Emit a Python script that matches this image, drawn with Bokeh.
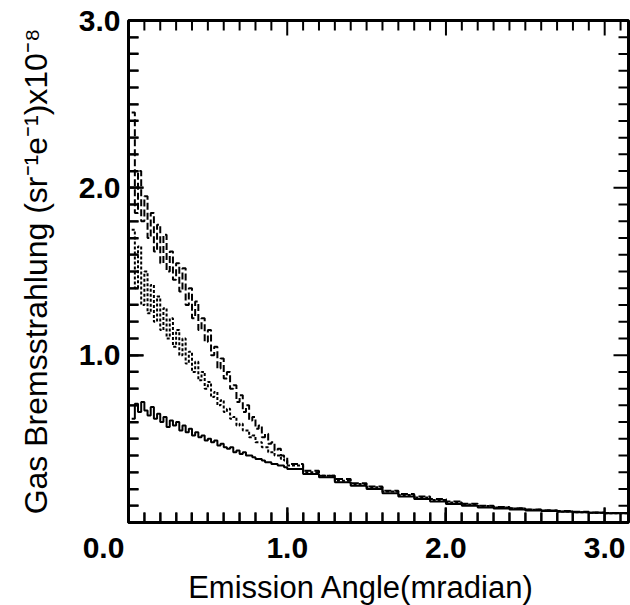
import numpy as np
from bokeh.plotting import figure
from bokeh.models import Range1d, FixedTicker
from bokeh.embed import file_html
from bokeh.resources import INLINE

# ---- data -------------------------------------------------------------
# fine angular bins (mrad) below 1.0, coarse bins above
fine_angle = np.round(np.arange(0.02, 0.995, 0.02), 2)
tail_angle = np.round(np.arange(1.0, 3.05, 0.1), 1)
last_edge = 3.2

solid_fine = [0.62, 0.71, 0.66, 0.72, 0.67, 0.64, 0.69, 0.62, 0.65, 0.60,
              0.63, 0.57, 0.61, 0.58, 0.60, 0.55, 0.58, 0.54, 0.56, 0.52,
              0.54, 0.51, 0.52, 0.49, 0.50, 0.48, 0.49, 0.46, 0.47, 0.45,
              0.44, 0.45, 0.42, 0.43, 0.41, 0.42, 0.40, 0.40, 0.39, 0.38,
              0.38, 0.37, 0.36, 0.36, 0.35, 0.35, 0.34, 0.34, 0.33]
solid_tail = [0.32, 0.29, 0.27, 0.24, 0.22, 0.20, 0.175, 0.155, 0.14, 0.125,
              0.11, 0.10, 0.09, 0.083, 0.077, 0.072, 0.068, 0.064, 0.061, 0.058, 0.056]

dashed_fine = [2.45, 1.85, 2.10, 1.80, 1.95, 1.70, 1.85, 1.62, 1.78, 1.55,
               1.72, 1.50, 1.62, 1.45, 1.55, 1.38, 1.52, 1.30, 1.40, 1.22,
               1.32, 1.15, 1.22, 1.08, 1.15, 1.00, 1.05, 0.92, 0.98, 0.86,
               0.90, 0.80, 0.82, 0.72, 0.76, 0.66, 0.70, 0.61, 0.63, 0.56,
               0.58, 0.51, 0.53, 0.47, 0.48, 0.43, 0.44, 0.40, 0.39]
dashed_tail = [0.35, 0.31, 0.28, 0.26, 0.235, 0.215, 0.19, 0.17, 0.155, 0.14,
               0.125, 0.112, 0.10, 0.092, 0.085, 0.078, 0.073, 0.068, 0.064, 0.06, 0.057]

dotted_fine = [1.75, 1.40, 1.65, 1.30, 1.50, 1.25, 1.42, 1.20, 1.35, 1.15,
               1.28, 1.10, 1.22, 1.05, 1.15, 1.00, 1.10, 0.95, 1.02, 0.90,
               0.96, 0.85, 0.90, 0.80, 0.84, 0.75, 0.78, 0.70, 0.73, 0.66,
               0.68, 0.62, 0.63, 0.58, 0.59, 0.55, 0.55, 0.51, 0.52, 0.48,
               0.48, 0.45, 0.45, 0.42, 0.42, 0.40, 0.40, 0.38, 0.37]
dotted_tail = [0.34, 0.30, 0.28, 0.25, 0.23, 0.21, 0.185, 0.165, 0.15, 0.135,
               0.12, 0.108, 0.098, 0.09, 0.083, 0.076, 0.071, 0.066, 0.062, 0.059, 0.056]

x_ticks = [0.0, 1.0, 2.0, 3.0]
y_ticks = [0.0, 1.0, 2.0, 3.0]
NB = "\u00a0"
x_tick_labels = {0.0: "0.0" + NB * 6, 1.0: "1.0", 2.0: "2.0", 3.0: "3.0"}
y_tick_labels = {0.0: "", 1.0: "1.0", 2.0: "2.0", 3.0: "3.0"}
x_title = "Emission Angle(mradian)" + NB * 4
y_title = "Gas Bremsstrahlung (sr\u207b\u00b9e\u207b\u00b9)x10\u207b\u2078"

X_MAX, Y_MAX = 3.15, 3.0
FW, FH = 500, 502

# ---- figure -----------------------------------------------------------
p = figure(frame_width=FW, frame_height=FH, output_backend="svg", toolbar_location=None,
           x_range=Range1d(0, X_MAX), y_range=Range1d(0, Y_MAX),
           min_border_left=128, min_border_right=2, min_border_top=20,
           min_border_bottom=83)
p.grid.visible = False
p.outline_line_color = "black"
p.outline_line_width = 3

# ---- inward ticks on all four sides (drawn as segments) ----------------
px_x = X_MAX / FW
px_y = Y_MAX / FH
MAJ, MIN = 15, 10
xt = [round(0.1 * i, 1) for i in range(1, 32)]
yt = [round(0.1 * i, 1) for i in range(1, 30)]
def tick_len(v, major_set):
    return MAJ if any(abs(v - m) < 1e-6 for m in major_set) else MIN

bx0, bx1, by0, by1 = [], [], [], []
for v in xt:
    L = tick_len(v, x_ticks)
    bx0 += [v, v]; bx1 += [v, v]
    by0 += [0.0, Y_MAX]; by1 += [L * px_y, Y_MAX - L * px_y]
for v in yt:
    L = tick_len(v, y_ticks)
    bx0 += [0.0, X_MAX]; bx1 += [L * px_x, X_MAX - L * px_x]
    by0 += [v, v]; by1 += [v, v]
p.segment(x0=bx0, y0=by0, x1=bx1, y1=by1, line_color="black", line_width=2)

# ---- curves -------------------------------------------------------------
def edges(fine, tail):
    xs = list(fine_angle) + list(tail_angle) + [last_edge]
    ys = list(fine) + list(tail) + [tail[-1]]
    return xs, ys

xs, ys = edges(solid_fine, solid_tail)
p.step(xs, ys, mode="after", line_color="black", line_width=2)
xs, ys = edges(dashed_fine, dashed_tail)
p.step(xs, ys, mode="after", line_color="black", line_width=2, line_dash="7 3")
xs, ys = edges(dotted_fine, dotted_tail)
p.step(xs, ys, mode="after", line_color="black", line_width=2, line_dash="3 2")

# ---- axes (labels + inward ticks) -------------------------------------
minor_x = [round(0.1 * i, 1) for i in range(0, 32)]
minor_y = [round(0.1 * i, 1) for i in range(0, 31)]

def style(ax, ticks, minor, labels):
    ax.ticker = FixedTicker(ticks=ticks, minor_ticks=minor)
    ax.axis_line_color = None
    ax.major_tick_line_color = "black"
    ax.minor_tick_line_color = "black"
    ax.major_tick_line_width = 2
    ax.minor_tick_line_width = 2
    ax.major_tick_in = MAJ
    ax.major_tick_out = 0
    ax.minor_tick_in = MIN
    ax.minor_tick_out = 0
    ax.major_label_overrides = labels
    ax.major_label_text_font = "Liberation Sans"
    ax.major_label_text_font_style = "bold"
    ax.major_label_text_font_size = "30px"
    ax.major_label_text_color = "black"
    ax.axis_label_text_font = "Liberation Sans"
    ax.axis_label_text_font_style = "normal"
    ax.axis_label_text_color = "black"

xa = p.xaxis[0]
ya = p.yaxis[0]
style(xa, x_ticks, minor_x, x_tick_labels)
style(ya, y_ticks, minor_y, y_tick_labels)
xa.axis_label = x_title
ya.axis_label = y_title
xa.axis_label_text_font_size = "31px"
ya.axis_label_text_font_size = "32px"
xa.major_label_standoff = 8
xa.axis_label_standoff = 3
ya.major_label_standoff = 8
ya.axis_label_standoff = 22

open("out.html", "w").write(file_html(p, INLINE))
